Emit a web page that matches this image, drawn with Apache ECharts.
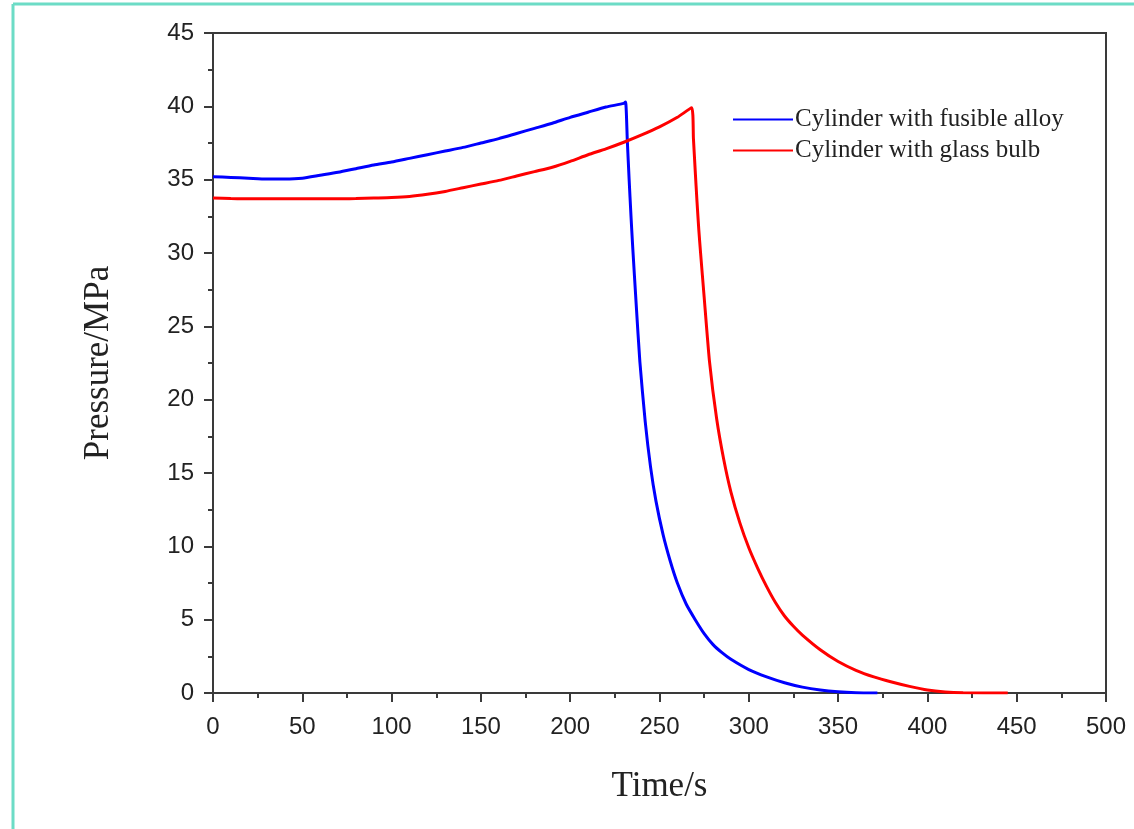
<!DOCTYPE html>
<html>
<head>
<meta charset="utf-8">
<script src="https://cdn.jsdelivr.net/npm/echarts@6/dist/echarts.min.js"></script>
<style>html,body{margin:0;padding:0;background:#fff}#c{width:1134px;height:829px}</style>
</head>
<body>
<div id="c"></div>
<script>
var seriesNames = ['Cylinder with fusible alloy', 'Cylinder with glass bulb'];
var xTicks = [0, 50, 100, 150, 200, 250, 300, 350, 400, 450, 500];
var yTicks = [0, 5, 10, 15, 20, 25, 30, 35, 40, 45];

var blueTime = [0,10,20,30,40,50,60,70,80,90,100,110,120,130,140,150,160,170,180,190,200,210,220,230,231,232,233,234,235,237,239,242,245,248,252,256,260,265,270,275,280,285,290,300,310,320,330,340,350,360,372];
var bluePressure = [35.2,35.15,35.1,35.05,35.05,35.1,35.3,35.5,35.75,36.0,36.2,36.45,36.7,36.95,37.2,37.5,37.8,38.15,38.5,38.85,39.25,39.6,39.95,40.2,40.3,37.6,35.0,32.6,30.4,26.4,22.6,18.5,15.4,13.1,10.8,9.0,7.5,6.05,5.0,4.05,3.3,2.75,2.3,1.6,1.1,0.7,0.4,0.2,0.08,0.02,0.0];

var redTime = [0,10,20,30,40,50,60,70,80,90,100,110,120,130,140,150,160,170,180,190,200,210,220,230,240,250,260,268,269,270,271,272,273,275,278,282,286,290,295,300,305,310,315,320,325,330,340,350,360,370,380,390,400,410,420,445];
var redPressure = [33.75,33.72,33.7,33.7,33.7,33.7,33.7,33.7,33.72,33.75,33.78,33.85,34.0,34.2,34.45,34.7,34.95,35.25,35.55,35.85,36.25,36.7,37.1,37.55,38.05,38.6,39.25,39.9,37.8,35.6,33.5,31.6,30.0,27.0,22.6,18.7,15.9,13.7,11.6,9.9,8.5,7.25,6.15,5.25,4.55,3.95,2.95,2.15,1.55,1.1,0.75,0.45,0.2,0.07,0.02,0.0];

function pairs(t, p) { return t.map(function (v, i) { return [v, p[i]]; }); }

var chart = echarts.init(document.getElementById('c'), null, { renderer: 'canvas' });
var axisColor = '#3a3a3a';
var labelColor = '#222';
chart.setOption({
  animation: false,
  backgroundColor: '#fff',
  graphic: [
    { type: 'line', shape: { x1: 13, y1: 4, x2: 1134, y2: 4 }, style: { stroke: '#6cdcc6', lineWidth: 3 } },
    { type: 'line', shape: { x1: 13, y1: 4, x2: 13, y2: 829 }, style: { stroke: '#6cdcc6', lineWidth: 3 } }
  ],
  grid: { left: 213, right: 28, top: 33, bottom: 136, show: true, borderColor: axisColor, borderWidth: 2, backgroundColor: 'transparent' },
  legend: {
    orient: 'vertical',
    left: 728,
    top: 102,
    itemWidth: 60,
    itemHeight: 10,
    itemGap: 6,
    icon: 'path://M0,4 L60,4 L60,6 L0,6 Z',
    textStyle: { fontFamily: 'Liberation Serif', fontSize: 25, color: labelColor, padding: [0, 0, 0, -3] },
    data: seriesNames
  },
  xAxis: {
    type: 'value', min: 0, max: 500, interval: 50,
    name: 'Time/s', nameLocation: 'middle', nameGap: 76,
    nameTextStyle: { fontFamily: 'Liberation Serif', fontSize: 35, color: labelColor },
    axisLine: { show: true, lineStyle: { color: axisColor, width: 2 } },
    axisTick: { show: true, inside: false, length: 9, lineStyle: { color: axisColor, width: 2 } },
    minorTick: { show: true, splitNumber: 2, length: 5, lineStyle: { color: axisColor, width: 2 } },
    splitLine: { show: false },
    axisLabel: { fontFamily: 'Liberation Sans', fontSize: 24, color: labelColor, margin: 22,
      formatter: function (v) { return xTicks.indexOf(v) >= 0 ? String(v) : ''; } }
  },
  yAxis: {
    type: 'value', min: 0, max: 45, interval: 5,
    name: 'Pressure/MPa', nameLocation: 'middle', nameGap: 97,
    nameTextStyle: { fontFamily: 'Liberation Serif', fontSize: 35, color: labelColor },
    axisLine: { show: true, lineStyle: { color: axisColor, width: 2 } },
    axisTick: { show: true, inside: false, length: 9, lineStyle: { color: axisColor, width: 2 } },
    minorTick: { show: true, splitNumber: 2, length: 5, lineStyle: { color: axisColor, width: 2 } },
    splitLine: { show: false },
    axisLabel: { fontFamily: 'Liberation Sans', fontSize: 24, color: labelColor, margin: 19,
      formatter: function (v) { return yTicks.indexOf(v) >= 0 ? String(v) : ''; } }
  },
  series: [
    { name: seriesNames[0], type: 'line', data: pairs(blueTime, bluePressure), showSymbol: false, smooth: 0.2,
      lineStyle: { color: '#0000ff', width: 3 }, itemStyle: { color: '#0000ff' } },
    { name: seriesNames[1], type: 'line', data: pairs(redTime, redPressure), showSymbol: false, smooth: 0.2,
      lineStyle: { color: '#ff0000', width: 3 }, itemStyle: { color: '#ff0000' } }
  ]
});
</script>
</body>
</html>
